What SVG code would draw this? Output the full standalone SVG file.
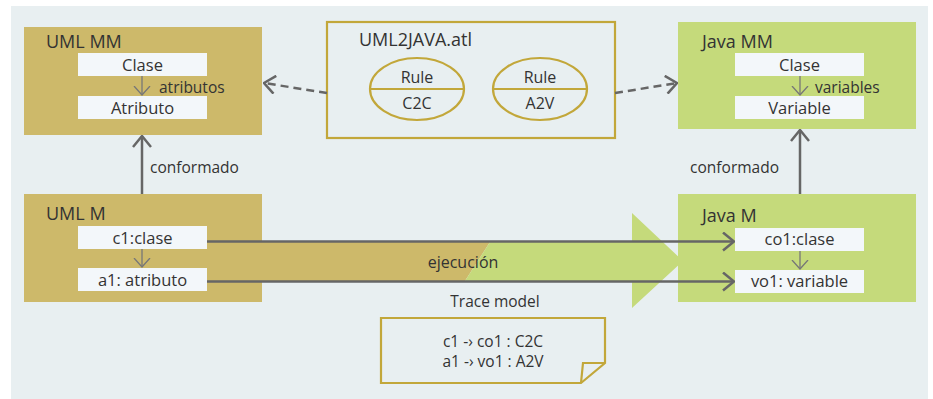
<svg xmlns="http://www.w3.org/2000/svg" width="933" height="399" viewBox="0 0 933 399">
  <style>
    text { font-family: "Open Sans", "Noto Sans", "DejaVu Sans", sans-serif; fill: #333; }
    .title { font-size: 18px; }
    .lbl { font-size: 15.5px; text-anchor: middle; }
    .box { font-size: 16.5px; text-anchor: middle; }
    .side { font-size: 15.5px; }
    .gold { fill: #cdb96a; }
    .green { fill: #c5da7b; }
    .inner { fill: #f3f7fa; }
    .outline { fill: none; stroke: #c2a73a; stroke-width: 2.2; }
    .link { fill: none; stroke: #666; stroke-width: 2.5; }
    .dash { fill: none; stroke: #666; stroke-width: 2.5; stroke-dasharray: 8 5; }
    .thin { fill: none; stroke: #777; stroke-width: 1.3; }
  </style>
  <defs>
    <marker id="open" viewBox="0 0 13 20" refX="12" refY="10" markerWidth="13" markerHeight="20" markerUnits="userSpaceOnUse" orient="auto">
      <path d="M1,1 L12,10 L1,19" fill="none" stroke="#666" stroke-width="2.5"/>
    </marker>
    <marker id="small" viewBox="0 0 10 18" refX="9.5" refY="9" markerWidth="10" markerHeight="18" markerUnits="userSpaceOnUse" orient="auto">
      <path d="M0.5,1 L9.5,9 L0.5,17" fill="none" stroke="#777" stroke-width="1.3"/>
    </marker>
  </defs>

  <!-- canvas -->
  <rect x="11" y="6" width="917" height="393" fill="#e8eff1"/>

  <!-- transformation band from UML M to Java M -->
  <g id="ejecucion">
    <polygon class="gold" points="262,242 490,242 465,281 262,281"/>
    <polygon class="green" points="490,242 632,242 632,213 683,261 632,308 632,281 465,281"/>
    <text class="lbl" x="463" y="268" style="font-size:16px">ejecución</text>
  </g>

  <!-- UML metamodel -->
  <g id="uml-mm">
    <rect class="gold" x="24" y="27" width="238" height="108"/>
    <text class="title" x="46" y="48">UML MM</text>
    <rect class="inner" x="78" y="53" width="129" height="23"/>
    <text class="box" x="142.5" y="71">Clase</text>
    <rect class="inner" x="78" y="96" width="129" height="23"/>
    <text class="box" x="142.5" y="114">Atributo</text>
    <line class="thin" x1="142" y1="76" x2="142" y2="95" marker-end="url(#small)"/>
    <text class="side" x="159" y="93">atributos</text>
  </g>

  <!-- UML model -->
  <g id="uml-m">
    <rect class="gold" x="24" y="194" width="238" height="108"/>
    <text class="title" x="46" y="220">UML M</text>
    <rect class="inner" x="78" y="226" width="129" height="23"/>
    <text class="box" x="142.5" y="243.5">c1:clase</text>
    <rect class="inner" x="78" y="268" width="129" height="23"/>
    <text class="box" x="142.5" y="286">a1: atributo</text>
    <line class="thin" x1="142" y1="249" x2="142" y2="267" marker-end="url(#small)"/>
  </g>

  <!-- ATL transformation -->
  <g id="atl">
    <rect class="outline" x="327" y="22" width="288" height="116"/>
    <text class="title" x="359" y="46">UML2JAVA.atl</text>
    <g id="rule-c2c">
      <ellipse class="outline" cx="417" cy="89" rx="47" ry="31"/>
      <line class="outline" x1="370" y1="89" x2="464" y2="89"/>
      <text class="lbl" x="417" y="83" style="font-size:16px">Rule</text>
      <text class="lbl" x="417" y="109" style="font-size:16px">C2C</text>
    </g>
    <g id="rule-a2v">
      <ellipse class="outline" cx="540" cy="89" rx="47" ry="31"/>
      <line class="outline" x1="493" y1="89" x2="587" y2="89"/>
      <text class="lbl" x="540" y="83" style="font-size:16px">Rule</text>
      <text class="lbl" x="540" y="109" style="font-size:16px">A2V</text>
    </g>
  </g>

  <!-- Java metamodel -->
  <g id="java-mm">
    <rect class="green" x="678" y="22" width="238" height="107"/>
    <text class="title" x="702" y="48">Java MM</text>
    <rect class="inner" x="735" y="53" width="129" height="23"/>
    <text class="box" x="799.5" y="71">Clase</text>
    <rect class="inner" x="735" y="96" width="129" height="23"/>
    <text class="box" x="799.5" y="114">Variable</text>
    <line class="thin" x1="800" y1="76" x2="800" y2="95" marker-end="url(#small)"/>
    <text class="side" x="815" y="93">variables</text>
  </g>

  <!-- Java model -->
  <g id="java-m">
    <rect class="green" x="678" y="194" width="238" height="108"/>
    <text class="title" x="702" y="222">Java M</text>
    <rect class="inner" x="735" y="228" width="129" height="23"/>
    <text class="box" x="799.5" y="245">co1:clase</text>
    <rect class="inner" x="735" y="270" width="129" height="23"/>
    <text class="box" x="799.5" y="287">vo1: variable</text>
    <line class="thin" x1="800" y1="251" x2="800" y2="269" marker-end="url(#small)"/>
  </g>

  <!-- trace model note -->
  <g id="trace">
    <text class="lbl" x="495" y="307">Trace model</text>
    <path class="outline" d="M381,318 L605,318 L605,363 L581,383 L381,383 Z"/>
    <path class="outline" d="M605,363 L583,363 L581,383"/>
    <text class="lbl" x="493" y="347">c1 -› co1 : C2C</text>
    <text class="lbl" x="493" y="367">a1 -› vo1 : A2V</text>
  </g>

  <!-- connectors -->
  <g id="connectors">
    <line class="link" x1="142" y1="194" x2="142" y2="136" marker-end="url(#open)"/>
    <text class="side" x="150" y="173">conformado</text>
    <line class="link" x1="800" y1="194" x2="800" y2="130" marker-end="url(#open)"/>
    <text class="side" x="779" y="173" text-anchor="end">conformado</text>
    <line class="dash" x1="327" y1="93" x2="264" y2="83" marker-end="url(#open)"/>
    <line class="dash" x1="615" y1="93" x2="677" y2="83" marker-end="url(#open)"/>
    <line class="link" x1="207" y1="241.5" x2="734" y2="241.5" marker-end="url(#open)"/>
    <line class="link" x1="207" y1="281.5" x2="734" y2="281.5" marker-end="url(#open)"/>
  </g>
</svg>
